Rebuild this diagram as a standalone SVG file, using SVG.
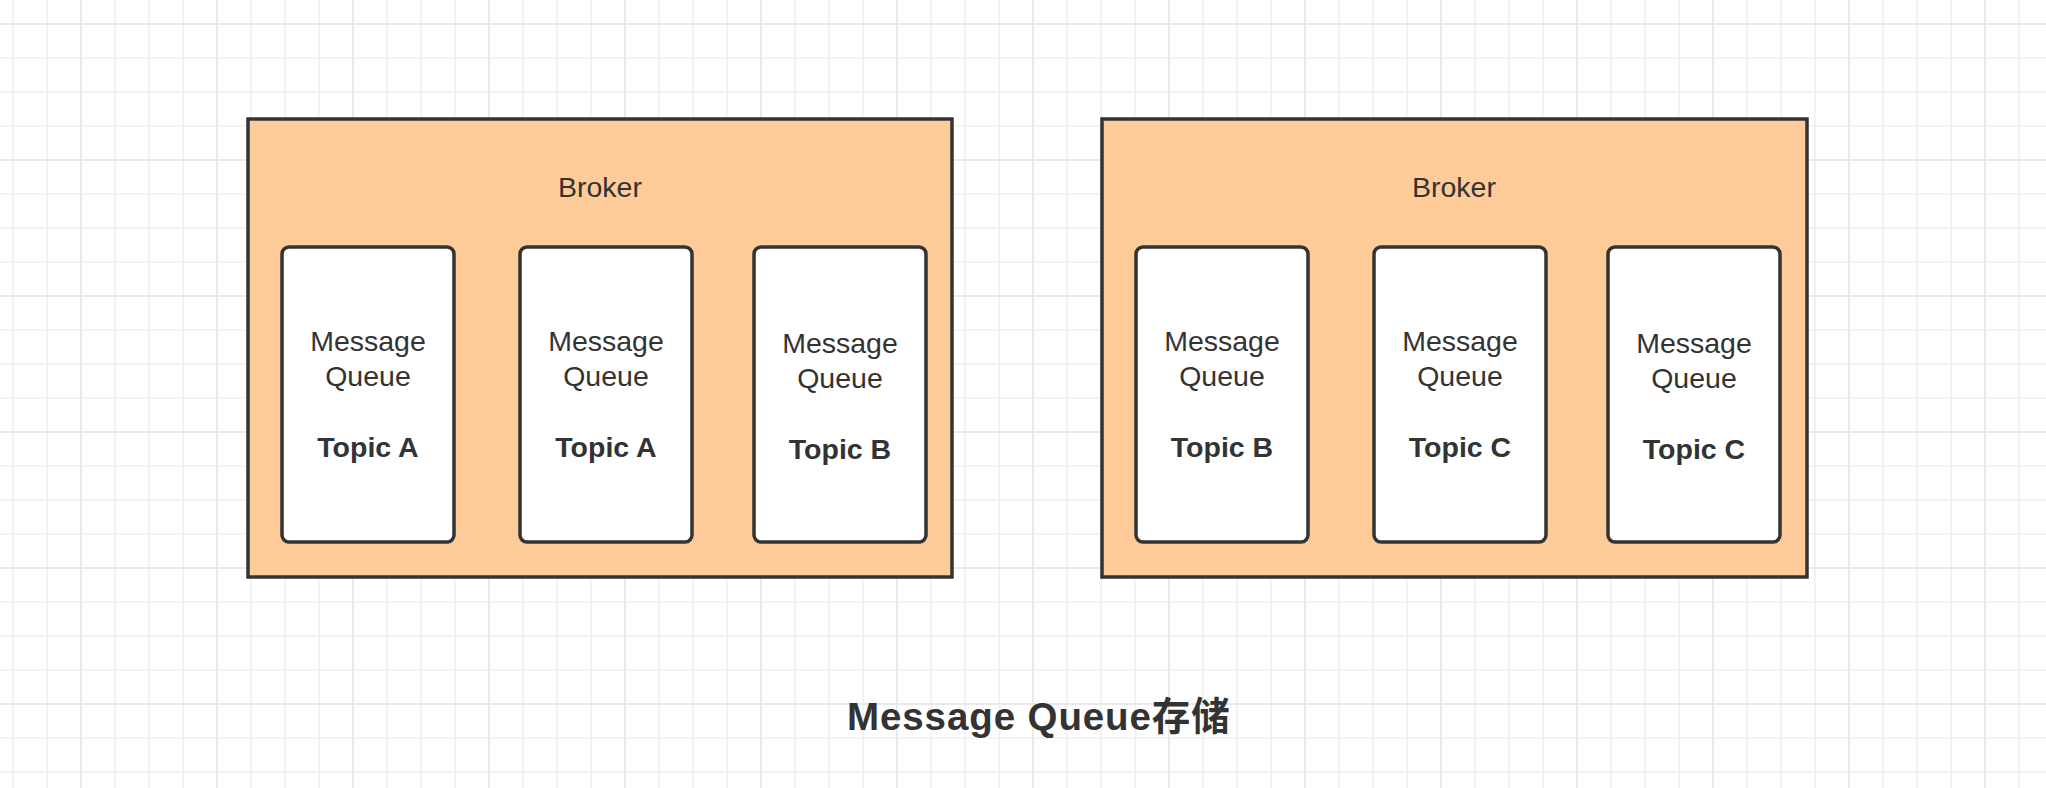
<svg xmlns="http://www.w3.org/2000/svg" width="2046" height="788" viewBox="0 0 2046 788">
  <style>
    .broker { fill: #FFCC99; stroke: #333333; stroke-width: 3.5; }
    .mq { fill: #FFFFFF; stroke: #333333; stroke-width: 3.5; }
    .lbl { font-family: "Liberation Sans", Arial, sans-serif; font-size: 28.5px; fill: #333333; text-anchor: middle; }
    .bold { font-weight: bold; }
    .title { font-family: "Liberation Sans", "Noto Sans CJK SC", sans-serif; font-size: 38.5px; font-weight: bold; fill: #333333; letter-spacing: 0.9px; }
  </style>
  <defs>
    <pattern id="minorGrid" patternUnits="userSpaceOnUse" x="-4" y="7" width="34" height="34">
      <path d="M 17 0 V 34 M 0 17 H 34" fill="none" stroke="#F0F0F0" stroke-width="1.5"/>
    </pattern>
    <pattern id="majorGrid" patternUnits="userSpaceOnUse" x="13" y="-44" width="136" height="136">
      <path d="M 68 0 V 136 M 0 68 H 136" fill="none" stroke="#E9E9E9" stroke-width="1.8"/>
    </pattern>
  </defs>

  <g id="background">
    <rect x="0" y="0" width="2046" height="788" fill="#FFFFFF"/>
    <rect x="0" y="0" width="2046" height="788" fill="url(#minorGrid)"/>
    <rect x="0" y="0" width="2046" height="788" fill="url(#majorGrid)"/>
  </g>

  <g id="connectors"></g>

  <g id="broker1">
    <rect class="broker" x="248" y="119" width="704" height="458"/>
    <text class="lbl" x="600" y="197">Broker</text>
  </g>
  <g id="broker2">
    <rect class="broker" x="1102" y="119" width="705" height="458"/>
    <text class="lbl" x="1454" y="197">Broker</text>
  </g>

  <g id="mq1">
    <rect class="mq" x="282" y="247" width="172" height="295" rx="7" ry="7"/>
    <text class="lbl" x="368" y="351">Message</text>
    <text class="lbl" x="368" y="386">Queue</text>
    <text class="lbl bold" x="368" y="457">Topic A</text>
  </g>
  <g id="mq2">
    <rect class="mq" x="520" y="247" width="172" height="295" rx="7" ry="7"/>
    <text class="lbl" x="606" y="351">Message</text>
    <text class="lbl" x="606" y="386">Queue</text>
    <text class="lbl bold" x="606" y="457">Topic A</text>
  </g>
  <g id="mq3">
    <rect class="mq" x="754" y="247" width="172" height="295" rx="7" ry="7"/>
    <text class="lbl" x="840" y="353">Message</text>
    <text class="lbl" x="840" y="388">Queue</text>
    <text class="lbl bold" x="840" y="459">Topic B</text>
  </g>
  <g id="mq4">
    <rect class="mq" x="1136" y="247" width="172" height="295" rx="7" ry="7"/>
    <text class="lbl" x="1222" y="351">Message</text>
    <text class="lbl" x="1222" y="386">Queue</text>
    <text class="lbl bold" x="1222" y="457">Topic B</text>
  </g>
  <g id="mq5">
    <rect class="mq" x="1374" y="247" width="172" height="295" rx="7" ry="7"/>
    <text class="lbl" x="1460" y="351">Message</text>
    <text class="lbl" x="1460" y="386">Queue</text>
    <text class="lbl bold" x="1460" y="457">Topic C</text>
  </g>
  <g id="mq6">
    <rect class="mq" x="1608" y="247" width="172" height="295" rx="7" ry="7"/>
    <text class="lbl" x="1694" y="353">Message</text>
    <text class="lbl" x="1694" y="388">Queue</text>
    <text class="lbl bold" x="1694" y="459">Topic C</text>
  </g>

  <g id="title">
    <text class="title" x="847" y="730">Message Queue存储</text>
  </g>
</svg>
